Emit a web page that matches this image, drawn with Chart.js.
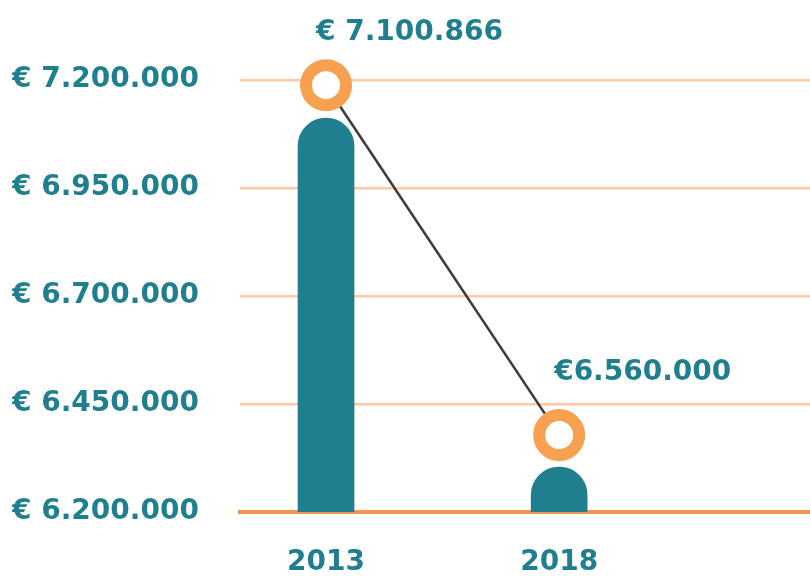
<!DOCTYPE html>
<html>
<head>
<meta charset="utf-8">
<script src="https://cdn.jsdelivr.net/npm/chart.js@4"></script>
<style>
    html, body { margin: 0; padding: 0; background: #ffffff; }
    #wrap { width: 810px; height: 576px; }
</style>
</head>
<body>
<div id="wrap"><canvas id="chart" width="810" height="576"></canvas></div>
<script>
// Chart data
const years = [2013, 2018];
const barValues = [7112000, 6304000];
const pointValues = [7188000, 6378000];
const valueLabels = ['€ 7.100.866', '€6.560.000'];
const yTicks = [6200000, 6450000, 6700000, 6950000, 7200000];

// Colors
const TEAL = '#1f7f8e';
const ORANGE = '#f7a04f';
const GRID = '#fdc9a5';
const AXIS = '#f7914f';
const FONT = '"DejaVu Sans", sans-serif';

function euro(v) {
    return '€ ' + Math.round(v).toString().replace(/\B(?=(\d{3})+(?!\d))/g, '.');
}

// Draws the value labels above the points
const pointLabels = {
    id: 'pointLabels',
    afterDatasetsDraw(chart, args, opts) {
        const ctx = chart.ctx;
        const meta = chart.getDatasetMeta(0);
        ctx.save();
        ctx.font = 'bold 28px ' + FONT;
        ctx.fillStyle = TEAL;
        ctx.textAlign = 'left';
        ctx.textBaseline = 'middle';
        meta.data.forEach((pt, i) => {
            ctx.fillText(valueLabels[i], pt.x + opts.dx[i], pt.y - opts.dy[i]);
        });
        ctx.restore();
    }
};

const ctx = document.getElementById('chart').getContext('2d');
new Chart(ctx, {
    data: {
        datasets: [{
            type: 'line',
            data: years.map((y, i) => ({ x: y, y: pointValues[i] })),
            borderColor: '#3a3a3a',
            borderWidth: 2.5,
            pointRadius: 20,
            pointBorderWidth: 12,
            pointBackgroundColor: '#ffffff',
            pointBorderColor: ORANGE,
            clip: false
        }, {
            type: 'bar',
            data: years.map((y, i) => ({ x: y, y: barValues[i] })),
            backgroundColor: TEAL,
            barThickness: 56,
            borderRadius: { topLeft: 28, topRight: 28, bottomLeft: 0, bottomRight: 0 },
            borderSkipped: 'bottom'
        }]
    },
    options: {
        responsive: false,
        animation: false,
        layout: { autoPadding: false, padding: { left: 12, top: 80, right: 0, bottom: 0 } },
        plugins: {
            legend: { display: false },
            tooltip: { enabled: false },
            pointLabels: { dx: [-10, -5], dy: [52, 62] }
        },
        scales: {
            x: {
                type: 'linear',
                offset: false,
                min: 2011.155,
                max: 2023.38,
                afterBuildTicks: (scale) => { scale.ticks = years.map(v => ({ value: v })); },
                afterFit: (scale) => {
                    scale.height = 64;
                    scale.paddingLeft = 0;
                    scale.paddingRight = 0;
                },
                grid: { display: false, drawTicks: false, offset: false },
                border: { display: true, color: AXIS, width: 4 },
                ticks: {
                    padding: 34,
                    color: TEAL,
                    font: { family: FONT, size: 28, weight: 'bold' },
                    callback: (v) => String(v)
                }
            },
            y: {
                min: yTicks[0],
                max: yTicks[yTicks.length - 1],
                afterBuildTicks: (scale) => { scale.ticks = yTicks.map(v => ({ value: v })); },
                afterFit: (scale) => { scale.width = 228; },
                grid: { color: GRID, lineWidth: 2.5, drawTicks: false },
                border: { display: false },
                ticks: {
                    crossAlign: 'far',
                    color: TEAL,
                    font: { family: FONT, size: 28, weight: 'bold' },
                    callback: (v) => euro(v)
                }
            }
        }
    },
    plugins: [pointLabels]
});
</script>
</body>
</html>
